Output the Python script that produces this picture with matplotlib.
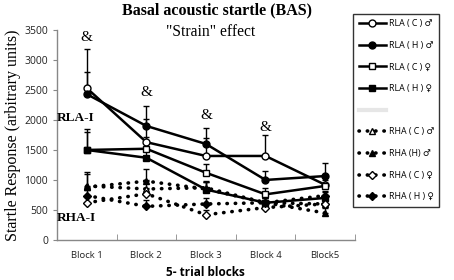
import matplotlib
matplotlib.use("Agg")
import matplotlib.pyplot as plt
from matplotlib.lines import Line2D

blocks = ["Block 1", "Block 2", "Block 3", "Block 4", "Block5"]

rla_c_m = [2530, 1630, 1400, 1400, 920]
rla_h_m = [2430, 1900, 1600, 1000, 1065]
rla_c_f = [1500, 1520, 1120, 760, 900]
rla_h_f = [1500, 1370, 840, 620, 700]
rha_c_m = [900, 850, 870, 620, 600]
rha_h_m = [880, 980, 850, 620, 450]
rha_c_f = [620, 770, 420, 540, 600]
rha_h_f = [740, 560, 600, 620, 740]

err_rla_c_m = [650, 390, 300, 350, 150]
err_rla_h_m = [370, 330, 270, 150, 220]
err_rla_c_f = [350, 200, 150, 100, 100]
err_rla_h_f = [300, 150, 150, 100, 100]
err_rha_c_m = [200, 150, 100, 80, 80]
err_rha_h_m = [250, 210, 120, 80, 80]
err_rha_c_f = [100, 100, 80, 60, 60]
err_rha_h_f = [100, 100, 100, 80, 80]

amp_blocks = [0, 1, 2, 3]
amp_y = [3370, 2450, 2070, 1880]

labels = ["RLA ( C ) \u2642", "RLA ( H ) \u2642", "RLA ( C ) \u2640", "RLA ( H ) \u2640",
          "RHA ( C ) \u2642", "RHA (H) \u2642", "RHA ( C ) \u2640", "RHA ( H ) \u2640"]

series = [
    (rla_c_m, err_rla_c_m, 'o', 'white', '-'),
    (rla_h_m, err_rla_h_m, 'o', 'black', '-'),
    (rla_c_f, err_rla_c_f, 's', 'white', '-'),
    (rla_h_f, err_rla_h_f, 's', 'black', '-'),
    (rha_c_m, err_rha_c_m, '^', 'white', 'dot'),
    (rha_h_m, err_rha_h_m, '^', 'black', 'dot'),
    (rha_c_f, err_rha_c_f, 'D', 'white', 'dot'),
    (rha_h_f, err_rha_h_f, 'D', 'black', 'dot'),
]

fig = plt.figure(figsize=(4.54, 2.8), dpi=100)
ax = fig.add_axes([0.1256, 0.143, 0.656, 0.75])

x = list(range(len(blocks)))
handles = []
for (vals, err, mk, fc, ls), lab in zip(series, labels):
    ax.errorbar(x, vals, yerr=[[0]*len(err), err], fmt='none', ecolor='black',
                elinewidth=1.0, capsize=2.5, capthick=1.0, zorder=2)
    ms = 5 if mk != 'D' else 4.2
    if ls == '-':
        ln, = ax.plot(x, vals, color='black', lw=1.8, marker=mk, ms=ms,
                      mfc=fc, mec='black', mew=1.0, zorder=3, label=lab)
    else:
        ln, = ax.plot(x, vals, color='black', lw=2.6, linestyle=(0, (0.1, 2.2)),
                      dash_capstyle='round', marker=mk, ms=ms,
                      mfc=fc, mec='black', mew=1.0, zorder=3, label=lab)
    handles.append(ln)

for b, yv in zip(amp_blocks, amp_y):
    ax.text(b, yv, "&", ha='center', va='center', fontsize=11, family='Liberation Serif')

ax.set_xlim(-0.5, 4.5)
ax.set_ylim(0, 3500)
ax.set_yticks(range(0, 3501, 500))
ax.set_xticks(x)
ax.set_xticklabels(blocks)
ax.set_xticks([i - 0.5 for i in range(6)], minor=True)
ax.tick_params(axis='x', which='major', length=0, labelsize=6.8, pad=8, colors='#222222')
ax.tick_params(axis='x', which='minor', length=4, color='#888888', direction='in')
ax.tick_params(axis='y', labelsize=7.5, length=3, color='#888888', colors='#222222')
for lab in ax.get_xticklabels() + ax.get_yticklabels():
    lab.set_family('Open Sans')
for s in ['top', 'right']:
    ax.spines[s].set_visible(False)
for s in ['left', 'bottom']:
    ax.spines[s].set_color('#888888')
    ax.spines[s].set_linewidth(1.0)

ax.set_ylabel("Startle Response (arbitrary units)", family='Liberation Serif', fontsize=11.5, labelpad=2)
ax.set_xlabel("5- trial blocks", family='Open Sans', fontsize=8.5, fontweight='bold', labelpad=4)

ax.text(-0.5, 2030, "RLA-I", family='Liberation Serif', fontweight='bold', fontsize=9.5, ha='left', va='center')
ax.text(-0.5, 370, "RHA-I", family='Liberation Serif', fontweight='bold', fontsize=9.5, ha='left', va='center')

fig.text(0.478, 0.962, "Basal acoustic startle (BAS)", family='Liberation Serif', fontweight='bold',
         fontsize=11.5, ha='center', va='center')
fig.text(0.465, 0.885, "\"Strain\" effect", family='Liberation Serif', fontsize=11.2, ha='center', va='center')

blank = Line2D([], [], color='#e6e6e6', lw=3)
leg_handles = handles[:4] + [blank] + handles[4:]
leg_labels = labels[:4] + [" "] + labels[4:]
leg = fig.legend(leg_handles, leg_labels, loc='upper left', bbox_to_anchor=(0.778, 0.95),
                 frameon=True, fancybox=False, edgecolor='black',
                 handlelength=3.1, labelspacing=1.42, borderpad=0.6, handletextpad=0.3,
                 borderaxespad=0.0,
                 prop={'family': ['Open Sans', 'DejaVu Sans'], 'size': 6.4})
leg.get_frame().set_linewidth(1.0)

fig.savefig("out.png", dpi=100)
